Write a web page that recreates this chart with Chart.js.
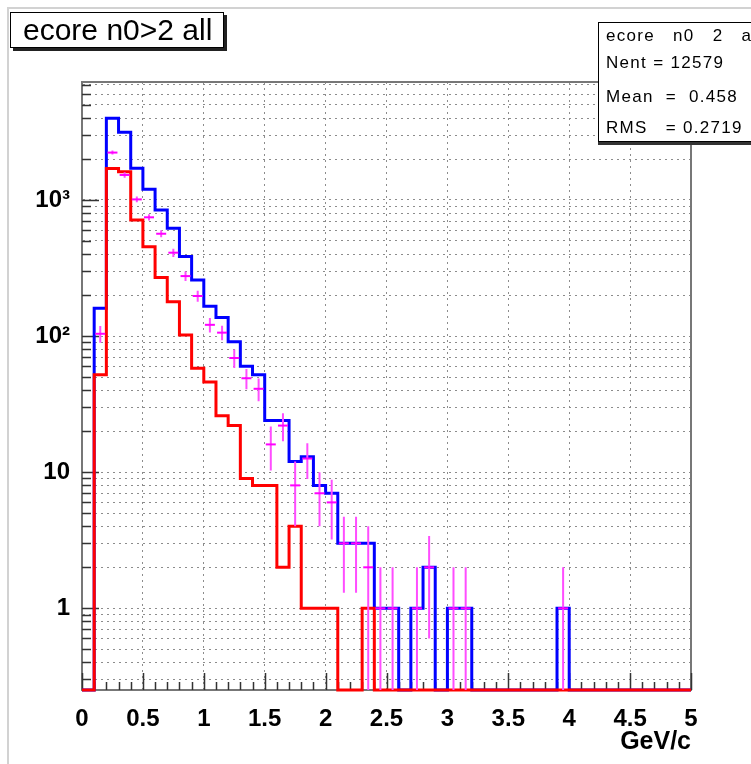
<!DOCTYPE html>
<html>
<head>
<meta charset="utf-8">
<script src="https://cdn.jsdelivr.net/npm/chart.js@4.4.1/dist/chart.umd.min.js"></script>
<style>
  body { margin: 0; background: #fff; }
  #wrap { position: relative; width: 751px; height: 764px; overflow: hidden;
          font-family: 'Liberation Sans', Arial, sans-serif; color: #000; }
  #wrap canvas { position: absolute; left: 0; top: 0; }
  #pad { position: absolute; left: 7px; top: 7px; width: 800px; height: 800px;
         border-left: 2px solid #d2d2d2; border-top: 2px solid #d2d2d2; }
  #title { position: absolute; left: 10px; top: 12px; width: 214px; height: 36px;
           box-sizing: border-box; border: 1px solid #000; background: #fff;
           box-shadow: 3px 3px 0 #222; font-size: 30px; line-height: 34px;
           padding-left: 12px; white-space: pre; z-index: 2; }
  #stats { position: absolute; left: 598px; top: 22px; width: 200px; height: 120px;
           box-sizing: border-box; border: 1px solid #000; background: #fff;
           box-shadow: 0 3px 0 #333; z-index: 2; }
  #stats div { position: absolute; left: 7px; font-size: 17px; letter-spacing: 1.3px;
               white-space: pre; line-height: 20px; }
</style>
</head>
<body>
<div id="wrap">
  <div id="pad"></div>
  <canvas id="histChart" width="751" height="764"></canvas>
  <div id="title">ecore n0&gt;2 all</div>
  <div id="stats">
    <div style="top:3px">ecore   n0   2   all</div>
    <div style="top:30px">Nent = 12579</div>
    <div style="top:64px">Mean  =  0.458</div>
    <div style="top:95px">RMS   = 0.2719</div>
  </div>
</div>
<script>
const ctx = document.getElementById('histChart').getContext('2d');
const FONT = "'Liberation Sans', Arial, sans-serif";

// bins of 0.1 GeV/c, lower edges
const BIN_LOW = [0.0, 0.1, 0.2, 0.3, 0.4, 0.5, 0.6, 0.7, 0.8, 0.9,
                 1.0, 1.1, 1.2, 1.3, 1.4, 1.5, 1.6, 1.7, 1.8, 1.9,
                 2.0, 2.1, 2.2, 2.3, 2.4, 2.5, 2.6, 2.7, 2.8, 2.9,
                 3.0, 3.1, 3.2, 3.3, 3.4, 3.5, 3.6, 3.7, 3.8, 3.9,
                 4.0, 4.1, 4.2, 4.3, 4.4, 4.5, 4.6, 4.7, 4.8, 4.9];
const BIN_WIDTH = 0.1;
const X_MAX = 5;

// blue histogram (counts per bin)
const BLUE = [0, 160, 3980, 3140, 1710, 1200, 845, 620, 385, 258,
              166, 137, 91, 60, 52, 24, 24, 12, 13, 8,
              7, 3, 3, 3, 1, 1, 0, 1, 2, 0,
              1, 1, 0, 0, 0, 0, 0, 0, 0, 1,
              0, 0, 0, 0, 0, 0, 0, 0, 0, 0];
// red histogram
const RED = [0, 52, 1700, 1610, 713, 454, 270, 179, 102, 58,
             46, 26, 22, 9, 8, 8, 2, 4, 1, 1,
             1, 0, 0, 1, 0, 0, 0, 0, 0, 0,
             0, 0, 0, 0, 0, 0, 0, 0, 0, 0,
             0, 0, 0, 0, 0, 0, 0, 0, 0, 0];
// magenta points with error bars
const MAGENTA = [0, 104, 2230, 1527, 1010, 746, 565, 410, 276, 197,
                 121, 106, 69, 49, 41, 16, 22, 8, 12.6, 7,
                 6, 3, 3, 2, 1, 1, 0, 1, 2, 0,
                 1, 1, 0, 0, 0, 0, 0, 0, 0, 1,
                 0, 0, 0, 0, 0, 0, 0, 0, 0, 0];
const MAGENTA_ERR = [0, 14.7, 75, 68.6, 49, 40.7, 33.5, 28.4, 22.1, 17.9,
                     14.7, 12.9, 10.7, 8.4, 7.8, 5.7, 5.1, 4, 3.7, 3,
                     2.8, 1.7, 1.7, 2, 1, 1, 0, 1, 1.4, 0,
                     1, 1, 0, 0, 0, 0, 0, 0, 0, 1,
                     0, 0, 0, 0, 0, 0, 0, 0, 0, 0];

const X_TICKS = [0, 0.5, 1, 1.5, 2, 2.5, 3, 3.5, 4, 4.5, 5];
const X_LABELS = ['0', '0.5', '1', '1.5', '2', '2.5', '3', '3.5', '4', '4.5', '5'];
const Y_MAJOR = [1, 10, 100, 1000];
const Y_LABELS = ['1', '10', '10\u00B2', '10\u00B3'];
const Y_MIN = 0.251;
const Y_MAX = 7360;

function yTickValues() {
  const vals = [];
  for (let dec = 0.1; dec < Y_MAX; dec *= 10) {
    for (let m = 1; m <= 9; m++) {
      const v = Math.round(m * dec * 1000) / 1000;
      if (v > Y_MIN && v < Y_MAX) vals.push(v);
    }
  }
  return vals;
}

// histogram outline: one point per lower bin edge, plus the last upper edge
function stepData(counts) {
  const pts = BIN_LOW.map((x, i) => ({x: x, y: counts[i] > 0 ? counts[i] : Y_MIN}));
  pts.unshift({x: BIN_LOW[0], y: Y_MIN});
  pts.push({x: X_MAX, y: counts[counts.length - 1] > 0 ? counts[counts.length - 1] : Y_MIN});
  return pts;
}

function markerData() {
  const pts = [];
  BIN_LOW.forEach((x, i) => {
    if (MAGENTA[i] > 0) pts.push({x: x + BIN_WIDTH / 2, y: MAGENTA[i]});
  });
  return pts;
}

function errorData() {
  const pts = [];
  BIN_LOW.forEach((x, i) => {
    if (MAGENTA[i] > 0) {
      const c = x + BIN_WIDTH / 2;
      pts.push({x: c, y: Math.max(MAGENTA[i] - MAGENTA_ERR[i], Y_MIN)});
      pts.push({x: c, y: MAGENTA[i] + MAGENTA_ERR[i]});
      pts.push({x: c, y: null});
    }
  });
  return pts;
}

// ROOT style tick marks pointing into the frame, plus the frame itself
const frameTicks = {
  id: 'frameTicks',
  beforeDatasetsDraw(chart) {
    const {ctx, chartArea: a, scales: {x, y}} = chart;
    ctx.save();
    ctx.strokeStyle = '#777';
    ctx.lineWidth = 2;
    ctx.strokeRect(a.left, a.top, a.right - a.left, a.bottom - a.top);
    ctx.strokeStyle = '#333';
    ctx.lineWidth = 1.5;
    ctx.beginPath();
    yTickValues().forEach(v => {
      const py = Math.round(y.getPixelForValue(v)) + 0.5;
      const len = Y_MAJOR.includes(v) ? 17 : 9;
      ctx.moveTo(a.left, py);
      ctx.lineTo(a.left + len, py);
    });
    BIN_LOW.concat([X_MAX]).forEach(v => {
      const px = Math.round(x.getPixelForValue(v)) + 0.5;
      const len = X_TICKS.some(t => Math.abs(t - v) < 1e-6) ? 17 : 8;
      ctx.moveTo(px, a.bottom);
      ctx.lineTo(px, a.bottom - len);
    });
    ctx.stroke();
    ctx.restore();
  }
};

new Chart(ctx, {
  type: 'line',
  data: {
    datasets: [
      {
        label: 'blue',
        data: stepData(BLUE),
        stepped: 'before',
        borderColor: '#0000ff',
        borderWidth: 3,
        pointRadius: 0,
        clip: 3,
        order: 3
      },
      {
        label: 'red',
        data: stepData(RED),
        stepped: 'before',
        borderColor: '#ff0000',
        borderWidth: 3,
        pointRadius: 0,
        clip: 3,
        order: 2
      },
      {
        label: 'errors',
        data: errorData(),
        borderColor: '#ff4dff',
        borderWidth: 2,
        pointRadius: 0,
        spanGaps: false,
        clip: 3,
        order: 1
      },
      {
        label: 'magenta',
        data: markerData(),
        showLine: false,
        pointStyle: 'line',
        pointRadius: 5,
        pointBorderWidth: 2,
        pointBorderColor: '#ff00ff',
        borderColor: '#ff00ff',
        clip: 3,
        order: 0
      }
    ]
  },
  options: {
    responsive: false,
    animation: false,
    devicePixelRatio: 1,
    layout: {padding: {left: 0, top: 82, right: 60, bottom: 0}},
    plugins: {
      legend: {display: false},
      tooltip: {enabled: false}
    },
    scales: {
      x: {
        type: 'linear',
        min: 0,
        max: X_MAX,
        offset: false,
        afterBuildTicks: (scale) => { scale.ticks = X_TICKS.map(v => ({value: v})); },
        afterFit: (scale) => { scale.height = 74; },
        ticks: {
          callback: (value, index) => X_LABELS[index],
          autoSkip: false,
          maxRotation: 0,
          color: '#000',
          padding: 15,
          font: {family: FONT, size: 24, weight: 'bold'}
        },
        grid: {color: '#8c8c8c', lineWidth: 1, drawTicks: false, offset: false},
        border: {color: '#444', width: 2, dash: [2, 4]},
        title: {
          display: true,
          text: 'GeV/c',
          align: 'end',
          color: '#000',
          font: {family: FONT, size: 25, weight: 'bold'},
          padding: {top: 0, bottom: 7}
        }
      },
      y: {
        type: 'logarithmic',
        min: Y_MIN,
        max: Y_MAX,
        afterBuildTicks: (scale) => { scale.ticks = yTickValues().map(v => ({value: v})); },
        afterFit: (scale) => { scale.width = 82; },
        ticks: {
          callback: (value) => {
            const k = Y_MAJOR.indexOf(value);
            return k >= 0 ? Y_LABELS[k] : '';
          },
          autoSkip: false,
          color: '#000',
          padding: 12,
          font: {family: FONT, size: 24, weight: 'bold'}
        },
        grid: {color: '#8c8c8c', lineWidth: 1, drawTicks: false},
        border: {color: '#444', width: 2, dash: [2, 4]}
      }
    }
  },
  plugins: [frameTicks]
});
</script>
</body>
</html>
